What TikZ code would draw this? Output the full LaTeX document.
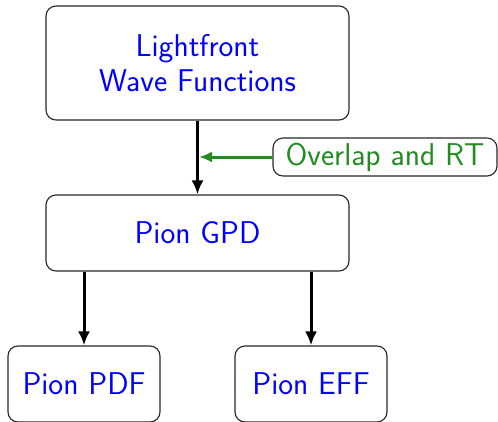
\documentclass[tikz,border=0pt]{standalone}
\usetikzlibrary{arrows.meta}
\definecolor{lfgreen}{RGB}{34,139,34}
\begin{document}
\begin{tikzpicture}[x=1pt,y=-1pt,
  box/.style={draw=black!85,line width=1.1pt,rounded corners=10pt,text=blue,align=center,
    font=\sffamily\fontsize{31.5}{35}\selectfont,inner sep=0pt},
  arr/.style={line width=3pt,-{Latex[length=14pt,width=12pt]}},
  garr/.style={draw=lfgreen,line width=3pt,-{Latex[length=13pt,width=11pt]}}]
\useasboundingbox (0,0) rectangle (498,421);
\node[box,minimum width=303pt,minimum height=114pt] (lwf) at (197.5,63) {Lightfront\\Wave Functions};
\node[box,minimum width=303pt,minimum height=76pt] (gpd) at (197.5,233) {Pion GPD};
\node[box,minimum width=152pt,minimum height=76pt] (pdf) at (84,384) {Pion PDF};
\node[box,minimum width=152pt,minimum height=76pt] (eff) at (311,384) {Pion EFF};
\node[box,text=lfgreen,minimum width=224pt,minimum height=38pt] (ov) at (385,157) {Overlap and RT};
\coordinate (mid) at (199,157);
\draw[arr] (lwf.south) -- (gpd.north);
\draw[garr] (ov.west) -- (mid);
\draw[arr] (gpd.south -| pdf.north) -- (pdf.north);
\draw[arr] (gpd.south -| eff.north) -- (eff.north);
\end{tikzpicture}
\end{document}
